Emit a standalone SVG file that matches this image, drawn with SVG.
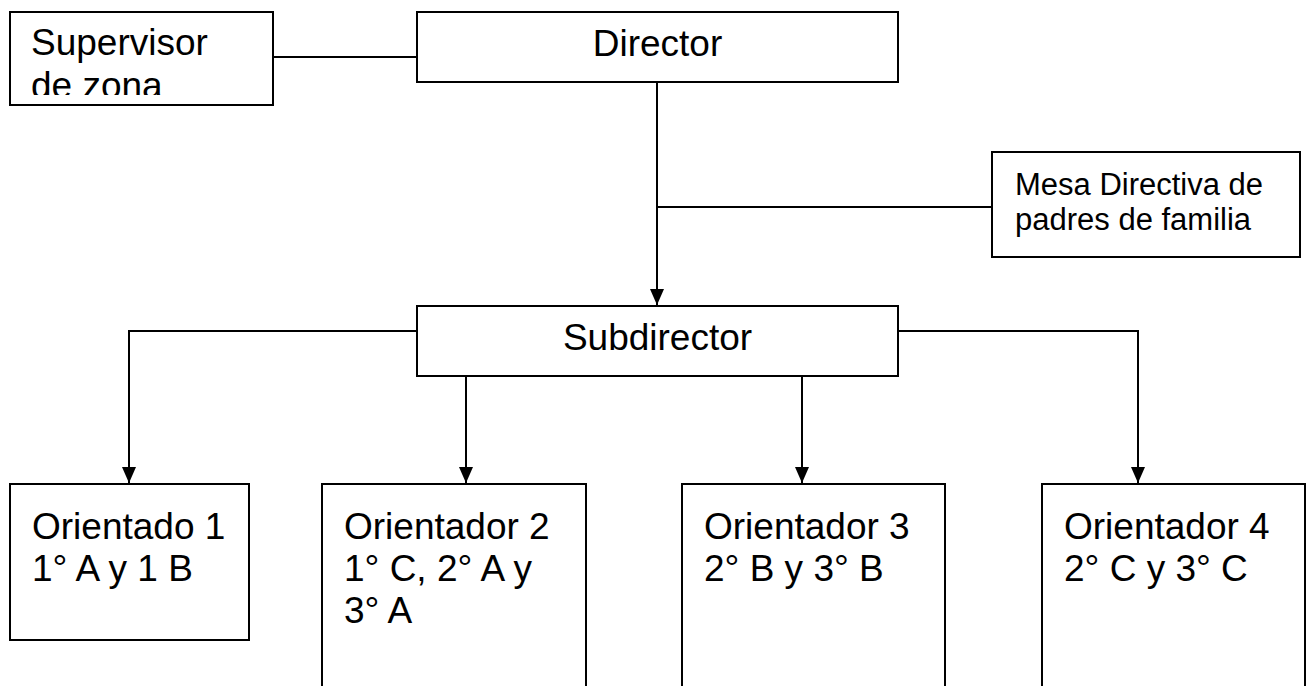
<svg xmlns="http://www.w3.org/2000/svg" width="1311" height="686" viewBox="0 0 1311 686">
<style>
.box{fill:#fff;stroke:#000;stroke-width:2}
.t{font-family:"Liberation Sans",Arial,sans-serif;font-size:37px;fill:#000}
.ts{font-family:"Liberation Sans",Arial,sans-serif;font-size:31px;fill:#000}
.c{fill:none;stroke:#000;stroke-width:2}
</style>
<defs>
<marker id="arr" markerUnits="userSpaceOnUse" markerWidth="16" markerHeight="14" refX="16" refY="7" orient="auto" viewBox="0 0 16 14">
<path d="M0,0 L16,7 L0,14 Z" fill="#000"/>
</marker>
<clipPath id="clipSup"><rect x="11" y="13" width="261" height="82"/></clipPath>
</defs>
<rect width="1311" height="686" fill="#fff"/>
<g id="connectors">
<line class="c" x1="273" y1="57" x2="417" y2="57"/>
<line class="c" x1="657" y1="82" x2="657" y2="305" marker-end="url(#arr)"/>
<line class="c" x1="657" y1="207" x2="992" y2="207"/>
<polyline class="c" points="417,331 129,331 129,483" marker-end="url(#arr)"/>
<line class="c" x1="466" y1="376" x2="466" y2="483" marker-end="url(#arr)"/>
<line class="c" x1="802" y1="376" x2="802" y2="483" marker-end="url(#arr)"/>
<polyline class="c" points="898,331 1138,331 1138,483" marker-end="url(#arr)"/>
</g>
<g id="supervisor">
<rect class="box" x="10" y="12" width="263" height="93"/>
<g clip-path="url(#clipSup)">
<text class="t" x="31" y="55">Supervisor</text>
<text class="t" x="31" y="98">de zona</text>
</g>
</g>
<g id="director">
<rect class="box" x="417" y="12" width="481" height="70"/>
<text class="t" x="657.5" y="56" text-anchor="middle">Director</text>
</g>
<g id="mesa">
<rect class="box" x="992" y="152" width="308" height="105"/>
<text class="ts" x="1015" y="195">Mesa Directiva de</text>
<text class="ts" x="1015" y="230">padres de familia</text>
</g>
<g id="subdirector">
<rect class="box" x="417" y="306" width="481" height="70"/>
<text class="t" x="657.5" y="350" text-anchor="middle">Subdirector</text>
</g>
<g id="orientador1">
<rect class="box" x="10" y="484" width="239" height="156"/>
<text class="t" x="32" y="539">Orientado 1</text>
<text class="t" x="32" y="581">1° A y 1 B</text>
</g>
<g id="orientador2">
<rect class="box" x="322" y="484" width="264" height="210"/>
<text class="t" x="344" y="539">Orientador 2</text>
<text class="t" x="344" y="581">1° C, 2° A y</text>
<text class="t" x="344" y="623">3° A</text>
</g>
<g id="orientador3">
<rect class="box" x="682" y="484" width="263" height="210"/>
<text class="t" x="704" y="539">Orientador 3</text>
<text class="t" x="704" y="581">2° B y 3° B</text>
</g>
<g id="orientador4">
<rect class="box" x="1042" y="484" width="263" height="210"/>
<text class="t" x="1064" y="539">Orientador 4</text>
<text class="t" x="1064" y="581">2° C y 3° C</text>
</g>
</svg>
